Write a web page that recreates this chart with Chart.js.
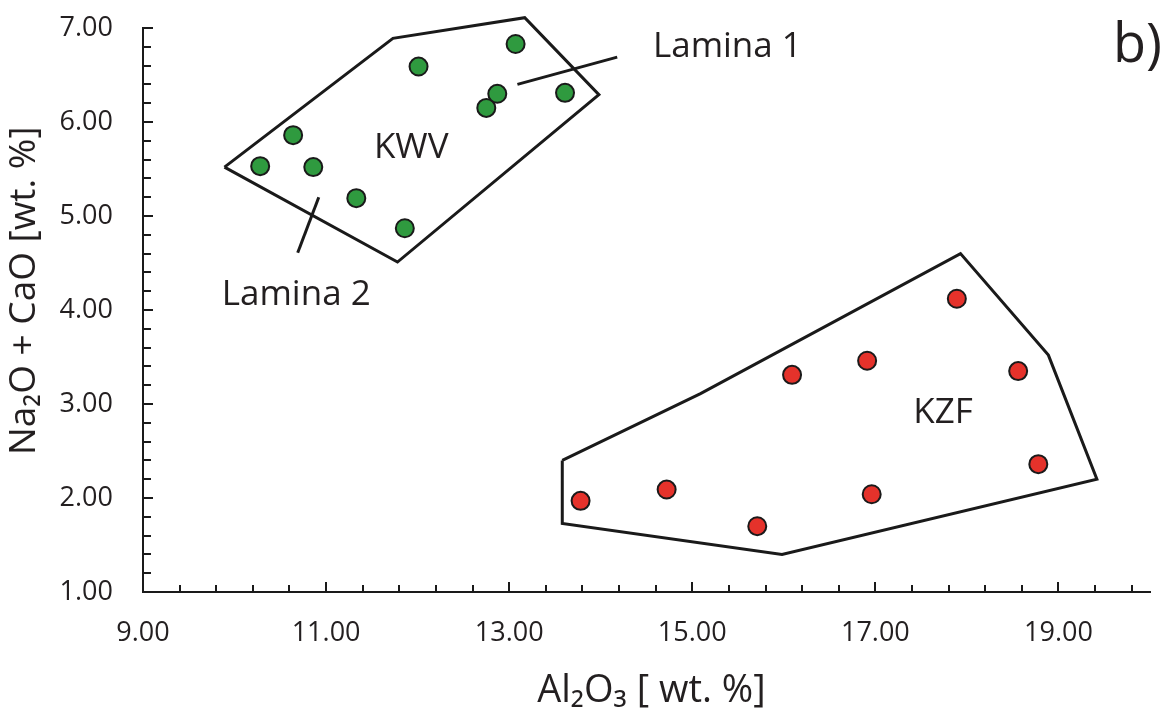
<!DOCTYPE html>
<html>
<head>
<meta charset="utf-8">
<script src="https://cdn.jsdelivr.net/npm/chart.js@4.4.1/dist/chart.umd.min.js"></script>
<style>
  html, body { margin: 0; padding: 0; background: #ffffff; }
  #wrap { width: 1176px; height: 716px; position: relative; }
</style>
</head>
<body>
<div id="wrap"><canvas id="c"></canvas></div>
<script>
// ---- data ----
const kwvX = [10.28, 10.64, 10.86, 11.33, 11.86, 12.01, 12.75, 12.87, 13.07, 13.61];
const kwvY = [5.53, 5.86, 5.52, 5.19, 4.87, 6.59, 6.15, 6.30, 6.83, 6.31];
const kzfX = [13.78, 14.72, 15.71, 16.09, 16.91, 16.96, 17.89, 18.56, 18.78];
const kzfY = [1.97, 2.09, 1.70, 3.31, 3.46, 2.04, 4.12, 3.35, 2.36];

// field outlines (closed polygons)
const kwvHullX = [9.89, 11.73, 13.17, 13.98, 11.78, 9.89];
const kwvHullY = [5.52, 6.89, 7.11, 6.29, 4.51, 5.52];
const kzfHullX = [13.58, 15.09, 17.93, 18.89, 19.42, 15.98, 13.58, 13.58];
const kzfHullY = [2.40, 3.11, 4.60, 3.52, 2.20, 1.40, 1.73, 2.40];

// leader lines of the lamina labels
const lamina1LineX = [13.09, 14.18];
const lamina1LineY = [6.40, 6.69];
const lamina2LineX = [10.92, 10.69];
const lamina2LineY = [5.20, 4.61];

// ticks
const xTickValues = [9, 9.4, 9.8, 10.2, 10.6, 11, 11.4, 11.8, 12.2, 12.6, 13, 13.4, 13.8, 14.2, 14.6,
                     15, 15.4, 15.8, 16.2, 16.6, 17, 17.4, 17.8, 18.2, 18.6, 19, 19.4, 19.8];
const xLabeledTicks = [9, 11, 13, 15, 17, 19];
const yTickValues = [1, 1.2, 1.4, 1.6, 1.8, 2, 2.2, 2.4, 2.6, 2.8, 3, 3.2, 3.4, 3.6, 3.8,
                     4, 4.2, 4.4, 4.6, 4.8, 5, 5.2, 5.4, 5.6, 5.8, 6, 6.2, 6.4, 6.6, 6.8, 7];
const yLabeledTicks = [1, 2, 3, 4, 5, 6, 7];

// text labels
const fieldLabels = [
  { text: 'KWV', x: 11.93, y: 5.617, align: 'center', size: 35 },
  { text: 'KZF', x: 17.74, y: 2.80, align: 'center', size: 35 },
  { text: 'Lamina 1', x: 14.57, y: 6.69, align: 'left', size: 35 },
  { text: 'Lamina 2', x: 9.86, y: 4.05, align: 'left', size: 35 }
];
const panelLabel = 'b)';

// ---- styling ----
const FONT = '"Open Sans", "Noto Sans", "DejaVu Sans", sans-serif';
const INK = '#231f20';
const LINE = '#1a1a1a';

const toPts = (xs, ys) => xs.map((x, i) => ({ x: x, y: ys[i] }));

const innerTicks = {
  id: 'innerTicks',
  afterDraw(chart) {
    const { ctx, scales: { x, y }, chartArea } = chart;
    ctx.save();
    ctx.strokeStyle = LINE;
    ctx.lineWidth = 2;
    ctx.lineCap = 'butt';
    xTickValues.forEach(v => {
      const px = Math.round(x.getPixelForValue(v));
      const len = xLabeledTicks.includes(v) ? 10 : 7;
      ctx.beginPath();
      ctx.moveTo(px, chartArea.bottom);
      ctx.lineTo(px, chartArea.bottom - len);
      ctx.stroke();
    });
    yTickValues.forEach(v => {
      const py = Math.round(y.getPixelForValue(v));
      const len = yLabeledTicks.includes(v) ? 10 : 8;
      ctx.beginPath();
      ctx.moveTo(chartArea.left, py);
      ctx.lineTo(chartArea.left + len, py);
      ctx.stroke();
    });
    ctx.restore();
  }
};

const annotations = {
  id: 'annotations',
  afterDatasetsDraw(chart) {
    const { ctx, scales: { x, y }, chartArea } = chart;
    ctx.save();
    ctx.fillStyle = INK;
    ctx.textBaseline = 'alphabetic';
    fieldLabels.forEach(l => {
      ctx.font = l.size + 'px ' + FONT;
      ctx.textAlign = l.align;
      ctx.fillText(l.text, x.getPixelForValue(l.x), y.getPixelForValue(l.y));
    });
    ctx.font = '54px ' + FONT;
    ctx.textAlign = 'left';
    ctx.fillText(panelLabel, chartArea.right - 37, chartArea.top + 34);
    ctx.restore();
  }
};

new Chart(document.getElementById('c'), {
  type: 'scatter',
  data: {
    datasets: [
      {
        label: 'KWV',
        data: toPts(kwvX, kwvY),
        pointRadius: 9,
        pointBorderWidth: 2,
        pointBackgroundColor: '#2f9a3f',
        pointBorderColor: LINE,
        showLine: false,
        clip: false,
        order: 1
      },
      {
        label: 'KZF',
        data: toPts(kzfX, kzfY),
        pointRadius: 9,
        pointBorderWidth: 2,
        pointBackgroundColor: '#e5322b',
        pointBorderColor: LINE,
        showLine: false,
        clip: false,
        order: 1
      },
      {
        label: 'KWV field',
        data: toPts(kwvHullX, kwvHullY),
        showLine: true,
        pointRadius: 0,
        borderColor: LINE,
        borderWidth: 3,
        borderJoinStyle: 'miter',
        fill: false,
        clip: false,
        order: 2
      },
      {
        label: 'KZF field',
        data: toPts(kzfHullX, kzfHullY),
        showLine: true,
        pointRadius: 0,
        borderColor: LINE,
        borderWidth: 3,
        borderJoinStyle: 'miter',
        fill: false,
        clip: false,
        order: 2
      },
      {
        label: 'Lamina 1 leader',
        data: toPts(lamina1LineX, lamina1LineY),
        showLine: true,
        pointRadius: 0,
        borderColor: LINE,
        borderWidth: 3,
        clip: false,
        order: 2
      },
      {
        label: 'Lamina 2 leader',
        data: toPts(lamina2LineX, lamina2LineY),
        showLine: true,
        pointRadius: 0,
        borderColor: LINE,
        borderWidth: 3,
        clip: false,
        order: 2
      }
    ]
  },
  options: {
    responsive: true,
    maintainAspectRatio: false,
    animation: false,
    events: [],
    layout: { autoPadding: false, padding: { left: 0, right: 26, top: 28, bottom: 0 } },
    plugins: {
      legend: { display: false },
      tooltip: { enabled: false }
    },
    scales: {
      x: {
        type: 'linear',
        min: 9,
        max: 20,
        afterBuildTicks: s => { s.ticks = xTickValues.map(v => ({ value: v })); },
        afterFit: s => { s.height = 124; s.paddingLeft = 0; s.paddingRight = 0; },
        grid: { display: false, drawTicks: false },
        border: { display: true, color: LINE, width: 2 },
        ticks: {
          autoSkip: false,
          maxRotation: 0,
          minRotation: 0,
          padding: 25,
          color: INK,
          font: { family: FONT, size: 27 },
          callback: v => xLabeledTicks.includes(v) ? v.toFixed(2) : ''
        },
        title: {
          display: true,
          text: ' Al₂O₃ [ wt. %]',
          color: INK,
          font: { family: FONT, size: 38 },
          padding: { top: 0, bottom: 2 }
        }
      },
      y: {
        type: 'linear',
        min: 1,
        max: 7,
        afterBuildTicks: s => { s.ticks = yTickValues.map(v => ({ value: v })); },
        afterFit: s => { s.width = 143; s.paddingTop = 0; s.paddingBottom = 0; },
        grid: { display: false, drawTicks: false },
        border: { display: true, color: LINE, width: 2 },
        ticks: {
          autoSkip: false,
          padding: 30,
          color: INK,
          font: { family: FONT, size: 27 },
          callback: v => yLabeledTicks.includes(v) ? v.toFixed(2) : ''
        },
        title: {
          display: true,
          text: '    Na₂O + CaO [wt. %]',
          color: INK,
          font: { family: FONT, size: 37 },
          padding: { top: 2, bottom: 0 }
        }
      }
    }
  },
  plugins: [innerTicks, annotations]
});
</script>
</body>
</html>
